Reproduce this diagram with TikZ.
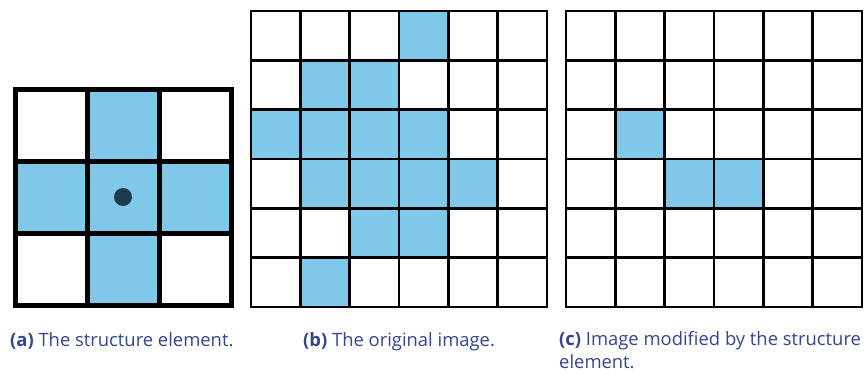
\documentclass[tikz,border=0pt]{standalone}
\usepackage{fontspec}
\setmainfont{Open Sans}
\definecolor{cellblue}{HTML}{7FC8E9}
\definecolor{dotblue}{HTML}{1F3A4F}
\definecolor{captext}{HTML}{34468F}

\begin{document}
\begin{tikzpicture}[x=1pt, y=-1pt,
    thickgrid/.style={line width=5pt, line cap=rect},
    thingrid/.style={line width=2.4pt, line cap=rect},
    caption/.style={anchor=base west, inner sep=0pt, text=captext, align=left,
        font=\fontsize{18.4}{23}\selectfont}]
    \useasboundingbox (0,0) rectangle (867,372);

    % (a) structure element, 3x3 cross
    \begin{scope}[shift={(15,89)}]
        \foreach \r/\c in {0/1, 1/0, 1/1, 1/2, 2/1}
            \fill[cellblue] (72*\c,72*\r) rectangle ++(72,72);
        \foreach \i in {0,...,3} {
            \draw[thickgrid] (72*\i,0) -- (72*\i,216);
            \draw[thickgrid] (0,72*\i) -- (216,72*\i);
        }
        \fill[dotblue] (108,108) circle (9);
    \end{scope}

    % (b) original image, 6x6
    \begin{scope}[shift={(251,11)}]
        \foreach \r/\c in {0/3, 1/1, 1/2, 2/0, 2/1, 2/2, 2/3,
                3/1, 3/2, 3/3, 3/4, 4/2, 4/3, 5/1}
            \fill[cellblue] (49.33*\c,49.33*\r) rectangle ++(49.33,49.33);
        \foreach \i in {0,...,6} {
            \draw[thingrid] (49.33*\i,0) -- (49.33*\i,296);
            \draw[thingrid] (0,49.33*\i) -- (296,49.33*\i);
        }
    \end{scope}

    % (c) eroded image, 6x6
    \begin{scope}[shift={(566,11)}]
        \foreach \r/\c in {2/1, 3/2, 3/3}
            \fill[cellblue] (49.33*\c,49.33*\r) rectangle ++(49.33,49.33);
        \foreach \i in {0,...,6} {
            \draw[thingrid] (49.33*\i,0) -- (49.33*\i,296);
            \draw[thingrid] (0,49.33*\i) -- (296,49.33*\i);
        }
    \end{scope}

    % captions (base of a two-line node sits on its last line)
    \node[caption] (capA) at (10,346) {\textbf{(a)} The structure element.};
    \node[caption] (capB) at (303,346) {\textbf{(b)} The original image.};
    \node[caption] (capC) at (559,368) {\textbf{(c)} Image modified by the structure\\element.};
\end{tikzpicture}
\end{document}
